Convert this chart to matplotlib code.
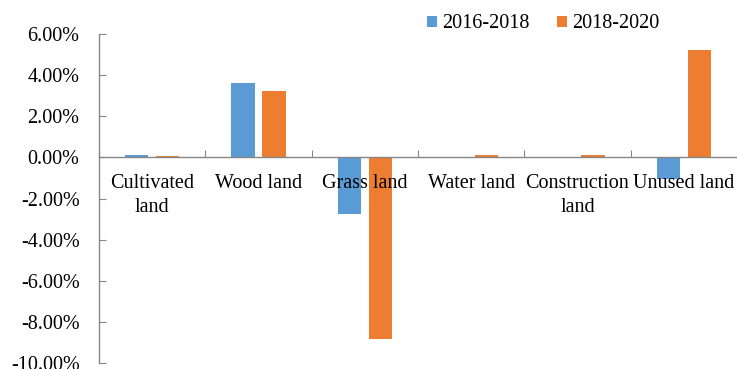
import matplotlib
matplotlib.use('Agg')
import matplotlib.pyplot as plt
from matplotlib.ticker import FuncFormatter
import numpy as np

plt.rcParams['font.family'] = ['Liberation Serif', 'DejaVu Serif']

categories = ['Cultivated\nland', 'Wood land', 'Grass land', 'Water land',
              'Construction\nland', 'Unused land']
series_names = ['2016-2018', '2018-2020']
vals_1618 = [0.12, 3.63, -2.74, 0.0, 0.0, -1.06]
vals_1820 = [0.07, 3.24, -8.84, 0.10, 0.10, 5.22]
colors = ['#5B9BD5', '#ED7D31']

fig = plt.figure(figsize=(7.37, 3.69), dpi=100)
ax = fig.add_axes([0.1343, 0.016, 0.8657, 0.892])

x = np.arange(len(categories))
w = 0.22
off = 0.145
ax.bar(x - off, np.array(vals_1618) / 100, w, color=colors[0], label=series_names[0])
ax.bar(x + off, np.array(vals_1820) / 100, w, color=colors[1], label=series_names[1])

ax.set_xlim(-0.5, len(categories) - 0.5)
ax.set_ylim(-0.10, 0.06)
ax.set_yticks(np.arange(-0.10, 0.061, 0.02))
ax.yaxis.set_major_formatter(FuncFormatter(lambda v, p: f'{v*100:.2f}%'))

gray = '#868686'
for s in ['top', 'right']:
    ax.spines[s].set_visible(False)
ax.spines['left'].set_color(gray)
ax.spines['bottom'].set_color(gray)
ax.spines['bottom'].set_position(('data', 0))
ax.spines['left'].set_linewidth(1.0)
ax.spines['bottom'].set_linewidth(1.0)

ax.set_xticks(np.arange(-0.5, len(categories), 1.0))
ax.set_xticklabels([])
ax.tick_params(axis='x', direction='in', length=5, color=gray)
ax.tick_params(axis='y', direction='in', length=5, color=gray, labelsize=14.5, pad=14)

for i, c in enumerate(categories):
    ax.annotate(c, (i, 0), xytext=(0, -12), textcoords='offset points',
                ha='center', va='top', fontsize=14.5, linespacing=1.35)

fig.legend(loc='upper center', bbox_to_anchor=(0.737, 1.01), ncol=2, frameon=False,
           fontsize=14.5, handlelength=0.5, handleheight=0.5, handletextpad=0.25,
           columnspacing=1.4)

fig.savefig('out.png', dpi=100)
